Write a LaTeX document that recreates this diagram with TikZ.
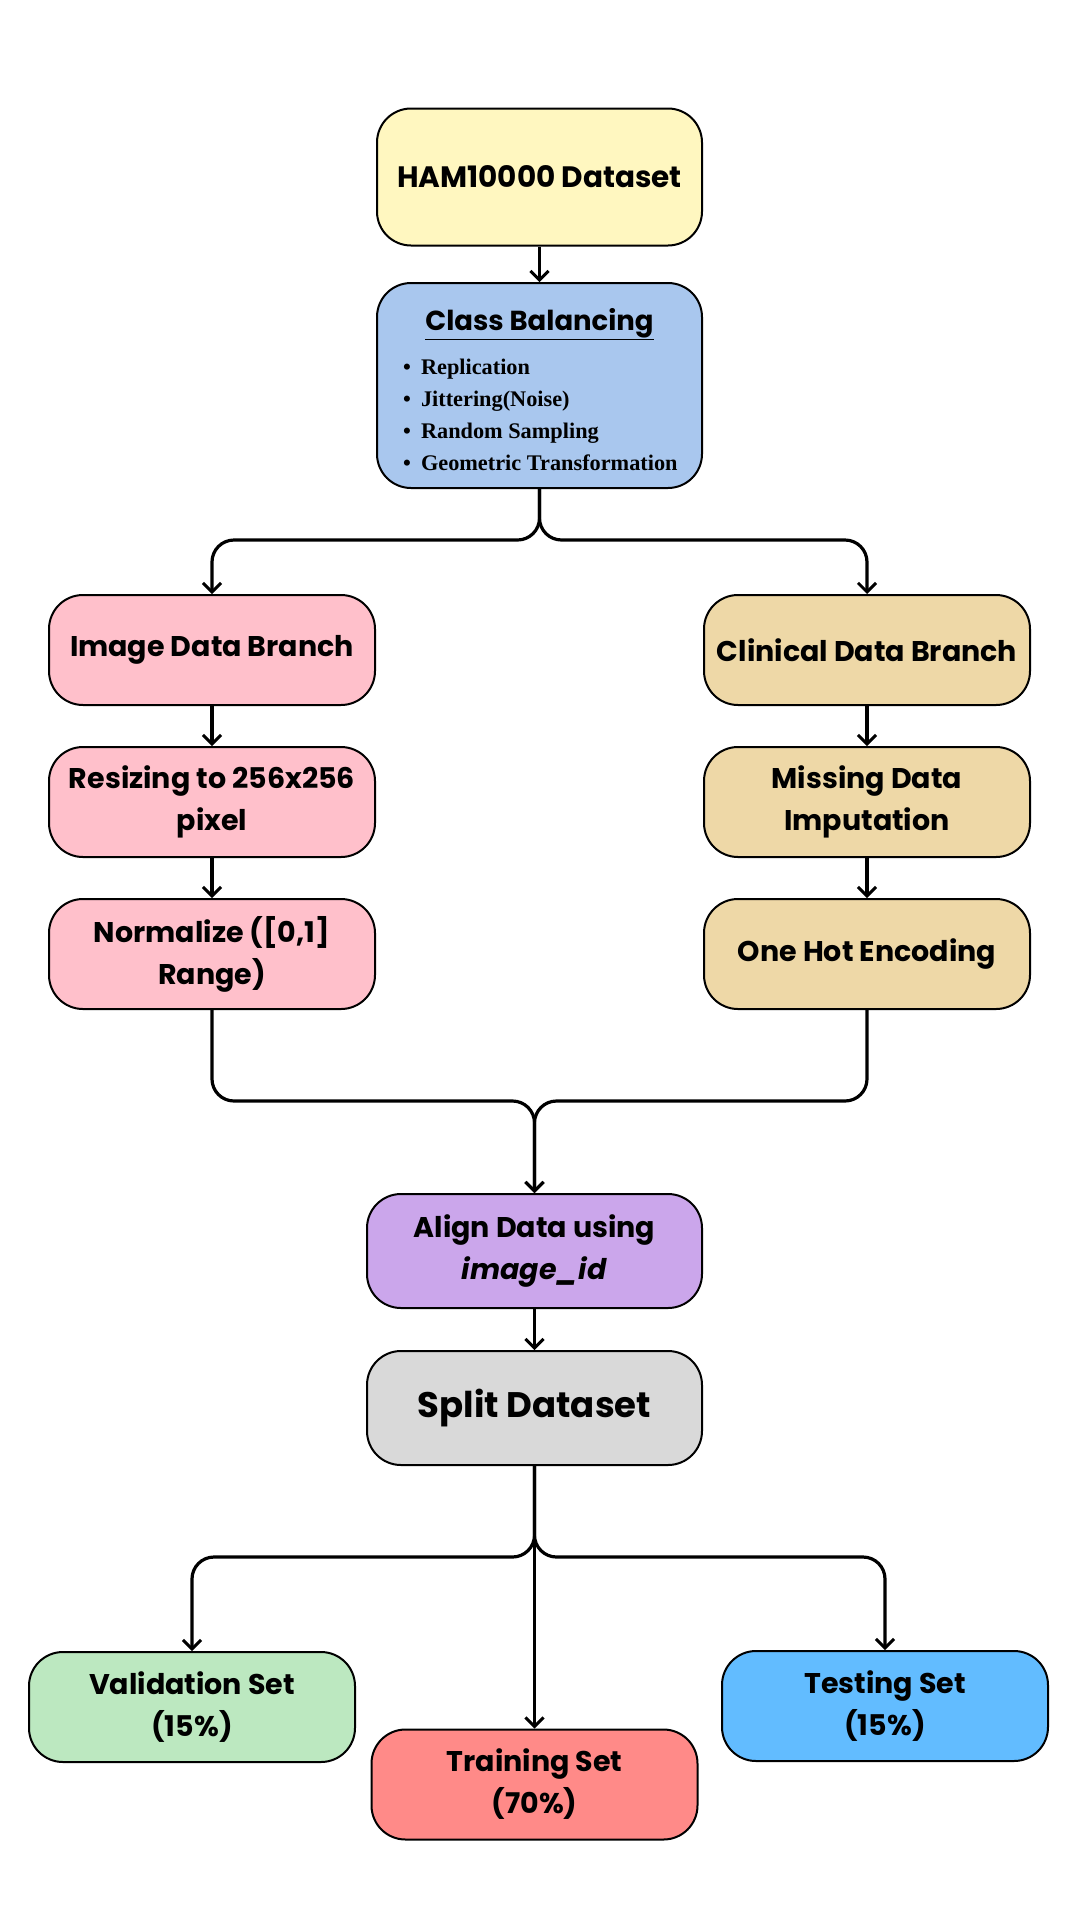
\documentclass[tikz,border=0pt]{standalone}
\usepackage{fontspec}
\setmainfont{Poppins}
\newfontfamily\serifb{Liberation Serif}
\usetikzlibrary{arrows.meta}
\definecolor{hamY}{HTML}{FFF7C0}
\definecolor{cbB}{HTML}{A9C7EE}
\definecolor{imgP}{HTML}{FFC0CB}
\definecolor{cliT}{HTML}{EED8A7}
\definecolor{alnP}{HTML}{CBA6EB}
\definecolor{splG}{HTML}{D9D9D9}
\definecolor{valG}{HTML}{BCE8C0}
\definecolor{trnR}{HTML}{FF8A88}
\definecolor{tstB}{HTML}{62BCFF}
\tikzset{
  box/.style={draw=black, line width=2pt, rounded corners=34pt, minimum width=326pt, minimum height=110pt, align=center, font=\fontsize{28.5}{42}\selectfont\bfseries, inner sep=2pt},
  conn/.style={line width=3.2pt, rounded corners=22pt, -{Straight Barb[length=9pt,width=18pt,line width=3pt]}}
}
\begin{document}
\begin{tikzpicture}[x=1pt,y=-1pt]
\useasboundingbox[fill=white] (0,0) rectangle (1080,1920);
\node[box, fill=hamY, minimum width=325pt, minimum height=137pt, font=\fontsize{29.5}{40}\selectfont\bfseries] (ham) at (539.5,177) {HAM10000 Dataset};
\node[box, fill=cbB, minimum width=325pt, minimum height=205pt] (cb) at (539.5,385.5) {};
\node[font=\fontsize{27.5}{32}\selectfont\bfseries] (cbt) at (539.5,324) {\underline{Class Balancing}};
\node[anchor=west, align=left, inner sep=0pt, font=\serifb\bfseries\fontsize{22.3}{32}\selectfont] (cbl) at (403,415) {\textbullet\hspace{10pt}Replication\\ \textbullet\hspace{10pt}Jittering(Noise)\\ \textbullet\hspace{10pt}Random Sampling\\ \textbullet\hspace{10pt}Geometric Transformation};
\node[box, fill=imgP] (img) at (212,650) {Image Data Branch};
\node[box, fill=imgP] (rsz) at (212,802) {Resizing to 256x256\\pixel};
\node[box, fill=imgP] (nrm) at (212,954) {Normalize ([0,1]\\Range)};
\node[box, fill=cliT] (cli) at (867,650) {Clinical Data Branch};
\node[box, fill=cliT] (mis) at (867,802) {Missing Data\\Imputation};
\node[box, fill=cliT] (ohe) at (867,954) {One Hot Encoding};
\node[box, fill=alnP, minimum width=335pt, minimum height=114pt] (aln) at (534.5,1251) {Align Data using\\\textit{image\_id}};
\node[box, fill=splG, minimum width=335pt, minimum height=114pt, font=\fontsize{35.5}{40}\selectfont\bfseries] (spl) at (534.5,1408) {Split Dataset};
\node[box, fill=valG] (val) at (192,1707) {Validation Set\\(15\%)};
\node[box, fill=trnR] (trn) at (534.5,1784.5) {Training Set\\(70\%)};
\node[box, fill=tstB] (tst) at (885,1706) {Testing Set\\(15\%)};
% connectors
\draw[conn] (ham.south) -- (cb.north);
\draw[conn] (cb.south) -- (539.5,540) -- (212,540) -- (img.north);
\draw[conn] (cb.south) -- (539.5,540) -- (867,540) -- (cli.north);
\draw[conn] (img.south) -- (rsz.north);
\draw[conn] (rsz.south) -- (nrm.north);
\draw[conn] (cli.south) -- (mis.north);
\draw[conn] (mis.south) -- (ohe.north);
\draw[conn] (nrm.south) -- (212,1101) -- (534.5,1101) -- (aln.north);
\draw[conn] (ohe.south) -- (867,1101) -- (534.5,1101) -- (aln.north);
\draw[conn] (aln.south) -- (spl.north);
\draw[conn] (spl.south) -- (534.5,1557) -- (192,1557) -- (val.north);
\draw[conn] (spl.south) -- (534.5,1557) -- (885,1557) -- (tst.north);
\draw[conn] (spl.south) -- (trn.north);
\end{tikzpicture}
\end{document}
